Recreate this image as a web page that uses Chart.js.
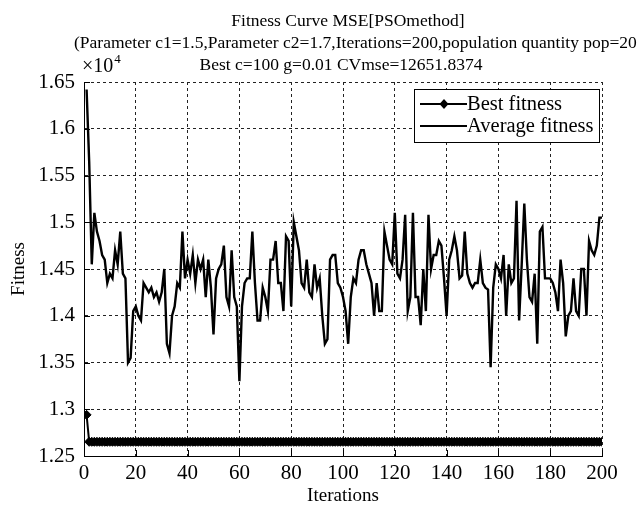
<!DOCTYPE html>
<html>
<head>
<meta charset="utf-8">
<script src="https://cdn.jsdelivr.net/npm/chart.js@4.4.1/dist/chart.umd.min.js"></script>
<style>
  html, body { margin: 0; padding: 0; background: #fff; }
  #wrap { position: relative; width: 640px; height: 514px; }
</style>
</head>
<body>
<div id="wrap"><canvas id="fitnessChart"></canvas></div>
<script>
// PSO run: 200 iterations, best and mean fitness (MSE) per iteration
const iterations = Array.from({ length: 200 }, (_, i) => i + 1);

const avgFitness = [
  16420, 15650, 14550, 15100, 14900, 14800, 14650, 14600, 14350, 14450,
  14400, 14700, 14550, 14900, 14450, 14400, 13500, 13550, 14050, 14100,
  14000, 13950, 14350, 14300, 14250, 14300, 14200, 14250, 14150, 14250,
  14500, 13700, 13600, 14000, 14100, 14350, 14300, 14900, 14400, 14600,
  14450, 14650, 14350, 14600, 14500, 14600, 14200, 14600, 14300, 13800,
  14400, 14500, 14550, 14750, 14200, 14100, 14700, 14200, 14100, 13300,
  14100, 14350, 14400, 14400, 14900, 14350, 13950, 13950, 14300, 14200,
  14050, 14600, 14600, 14800, 14350, 14350, 14050, 14850, 14800, 14100,
  15000, 14850, 14700, 14350, 14300, 14600, 14250, 14200, 14550, 14300,
  14400, 14000, 13700, 13750, 14600, 14650, 14650, 14350, 14300, 14200,
  14050, 13700, 14200, 14400, 14350, 14600, 14700, 14700, 14550, 14450,
  14350, 14000, 14350, 14050, 14050, 14900, 14750, 14600, 14550, 15100,
  14450, 14400, 14600, 15080, 14050, 14200, 15100, 14200, 14200, 13900,
  14500, 14050, 15080, 14500, 14650, 14650, 14800, 14750, 14400, 14000,
  14600, 14700, 14850, 14700, 14400, 14430, 14900, 14450, 14350, 14300,
  14350, 14350, 14600, 14350, 14300, 14280, 13450, 14300, 14550, 14500,
  14400, 14650, 14000, 14550, 14350, 14400, 15230, 13950, 14550, 15200,
  14600, 14200, 14150, 14450, 13700, 14900, 14950, 14400, 14400, 14400,
  14350, 14250, 14050, 14600, 14350, 13780, 14000, 14050, 14400, 14050,
  14000, 14500, 14500, 14000, 14800, 14700, 14650, 14750, 15050, 15050
];

const bestFitness = [
  12940, 12651.84, 12651.84, 12651.84, 12651.84, 12651.84, 12651.84, 12651.84, 12651.84, 12651.84,
  12651.84, 12651.84, 12651.84, 12651.84, 12651.84, 12651.84, 12651.84, 12651.84, 12651.84, 12651.84,
  12651.84, 12651.84, 12651.84, 12651.84, 12651.84, 12651.84, 12651.84, 12651.84, 12651.84, 12651.84,
  12651.84, 12651.84, 12651.84, 12651.84, 12651.84, 12651.84, 12651.84, 12651.84, 12651.84, 12651.84,
  12651.84, 12651.84, 12651.84, 12651.84, 12651.84, 12651.84, 12651.84, 12651.84, 12651.84, 12651.84,
  12651.84, 12651.84, 12651.84, 12651.84, 12651.84, 12651.84, 12651.84, 12651.84, 12651.84, 12651.84,
  12651.84, 12651.84, 12651.84, 12651.84, 12651.84, 12651.84, 12651.84, 12651.84, 12651.84, 12651.84,
  12651.84, 12651.84, 12651.84, 12651.84, 12651.84, 12651.84, 12651.84, 12651.84, 12651.84, 12651.84,
  12651.84, 12651.84, 12651.84, 12651.84, 12651.84, 12651.84, 12651.84, 12651.84, 12651.84, 12651.84,
  12651.84, 12651.84, 12651.84, 12651.84, 12651.84, 12651.84, 12651.84, 12651.84, 12651.84, 12651.84,
  12651.84, 12651.84, 12651.84, 12651.84, 12651.84, 12651.84, 12651.84, 12651.84, 12651.84, 12651.84,
  12651.84, 12651.84, 12651.84, 12651.84, 12651.84, 12651.84, 12651.84, 12651.84, 12651.84, 12651.84,
  12651.84, 12651.84, 12651.84, 12651.84, 12651.84, 12651.84, 12651.84, 12651.84, 12651.84, 12651.84,
  12651.84, 12651.84, 12651.84, 12651.84, 12651.84, 12651.84, 12651.84, 12651.84, 12651.84, 12651.84,
  12651.84, 12651.84, 12651.84, 12651.84, 12651.84, 12651.84, 12651.84, 12651.84, 12651.84, 12651.84,
  12651.84, 12651.84, 12651.84, 12651.84, 12651.84, 12651.84, 12651.84, 12651.84, 12651.84, 12651.84,
  12651.84, 12651.84, 12651.84, 12651.84, 12651.84, 12651.84, 12651.84, 12651.84, 12651.84, 12651.84,
  12651.84, 12651.84, 12651.84, 12651.84, 12651.84, 12651.84, 12651.84, 12651.84, 12651.84, 12651.84,
  12651.84, 12651.84, 12651.84, 12651.84, 12651.84, 12651.84, 12651.84, 12651.84, 12651.84, 12651.84,
  12651.84, 12651.84, 12651.84, 12651.84, 12651.84, 12651.84, 12651.84, 12651.84, 12651.84, 12651.84
];

const xTicks = [0, 20, 40, 60, 80, 100, 120, 140, 160, 180, 200];
const yTicks = [12500, 13000, 13500, 14000, 14500, 15000, 15500, 16000, 16500];
const yTickLabels = ["1.25", "1.3", "1.35", "1.4", "1.45", "1.5", "1.55", "1.6", "1.65"];

const titleLines = [
  "Fitness Curve MSE[PSOmethod]",
  "(Parameter c1=1.5,Parameter c2=1.7,Iterations=200,population quantity pop=20",
  "Best c=100 g=0.01 CVmse=12651.8374",
];
const legendLabels = ["Best fitness", "Average fitness"];

const SERIF = '"Liberation Serif", "DejaVu Serif", serif';

// title, x10^4 exponent, inward ticks and the boxed legend
const decorations = {
  id: "decorations",
  afterDraw(chart) {
    const { ctx, chartArea: area } = chart;
    const xs = chart.scales.x, ys = chart.scales.y;
    ctx.save();
    ctx.fillStyle = "#000";
    ctx.strokeStyle = "#000";

    // title
    ctx.font = "17.5px " + SERIF;
    ctx.textBaseline = "middle";
    ctx.textAlign = "center";
    ctx.fillText(titleLines[0], 348, 21);
    ctx.textAlign = "left";
    ctx.fillText(titleLines[1], 74, 43);
    ctx.textAlign = "center";
    ctx.fillText(titleLines[2], 341, 65);

    // axis exponent
    ctx.textAlign = "left";
    ctx.font = "20px " + SERIF;
    ctx.fillText("\u00d710", 82, 67);
    const expX = 82 + ctx.measureText("\u00d710").width + 1;
    ctx.font = "13px " + SERIF;
    ctx.fillText("4", expX, 60);

    // inward ticks on the bottom and left axes
    ctx.lineWidth = 1;
    ctx.beginPath();
    xTicks.forEach(v => {
      const px = Math.round(xs.getPixelForValue(v)) + 0.5;
      ctx.moveTo(px, area.bottom);
      ctx.lineTo(px, area.bottom - 6);
    });
    yTicks.forEach(v => {
      const py = Math.round(ys.getPixelForValue(v)) + 0.5;
      ctx.moveTo(area.left, py);
      ctx.lineTo(area.left + 6, py);
    });
    ctx.stroke();

    // legend
    const box = { x: 414.5, y: 89.5, w: 185, h: 53 };
    ctx.fillStyle = "#fff";
    ctx.fillRect(box.x, box.y, box.w, box.h);
    ctx.strokeRect(box.x, box.y, box.w, box.h);
    ctx.fillStyle = "#000";
    ctx.font = "20.5px " + SERIF;
    ctx.textAlign = "left";
    const rows = [104, 126];
    rows.forEach((ry, i) => {
      ctx.lineWidth = 2;
      ctx.beginPath();
      ctx.moveTo(420, ry);
      ctx.lineTo(467, ry);
      ctx.stroke();
      if (i === 0) {
        ctx.beginPath();
        ctx.moveTo(444, ry - 5);
        ctx.lineTo(448.5, ry);
        ctx.lineTo(444, ry + 5);
        ctx.lineTo(439.5, ry);
        ctx.closePath();
        ctx.fill();
      }
      ctx.fillText(legendLabels[i], 467, ry + 1);
    });
    ctx.restore();
  }
};

const tickFont = { family: SERIF, size: 21 };
const axisTitleFont = { family: SERIF, size: 19 };

new Chart(document.getElementById("fitnessChart"), {
  type: "line",
  data: {
    datasets: [
      {
        label: legendLabels[0],
        data: iterations.map((it, i) => ({ x: it, y: bestFitness[i] })),
        borderColor: "#000",
        backgroundColor: "#000",
        borderWidth: 2,
        pointStyle: "rectRot",
        pointRadius: 4.5,
        pointBorderWidth: 1,
        pointBackgroundColor: "#000",
        pointBorderColor: "#000",
      },
      {
        label: legendLabels[1],
        data: iterations.map((it, i) => ({ x: it, y: avgFitness[i] })),
        borderColor: "#000",
        borderWidth: 2.4,
        pointRadius: 0,
        tension: 0,
      },
    ],
  },
  options: {
    responsive: true,
    maintainAspectRatio: false,
    animation: false,
    layout: { padding: { top: 82, right: 38, bottom: 0, left: 0 } },
    plugins: {
      legend: { display: false },
      tooltip: { enabled: false },
    },
    scales: {
      x: {
        type: "linear",
        min: 0,
        max: 200,
        afterBuildTicks: s => { s.ticks = xTicks.map(v => ({ value: v })); },
        afterFit: s => { s.height = 58; },
        grid: { color: "#222", lineWidth: 1, drawTicks: false },
        border: { color: "#000", width: 1, dash: [3, 3] },
        ticks: { color: "#000", font: tickFont, padding: 5, maxRotation: 0, autoSkip: false },
        title: {
          display: true,
          text: "Iterations",
          color: "#000",
          font: axisTitleFont,
          padding: { top: 0, bottom: 7 },
        },
      },
      y: {
        min: 12500,
        max: 16500,
        afterBuildTicks: s => { s.ticks = yTicks.map(v => ({ value: v })); },
        afterFit: s => { s.width = 84; },
        grid: { color: "#222", lineWidth: 1, drawTicks: false },
        border: { color: "#000", width: 1, dash: [3, 3] },
        ticks: {
          color: "#000",
          font: tickFont,
          padding: 9,
          autoSkip: false,
          callback: v => yTickLabels[yTicks.indexOf(v)],
        },
        title: {
          display: true,
          text: "Fitness",
          color: "#000",
          font: axisTitleFont,
          padding: { top: 8, bottom: 0 },
        },
      },
    },
  },
  plugins: [decorations],
});
</script>
</body>
</html>
